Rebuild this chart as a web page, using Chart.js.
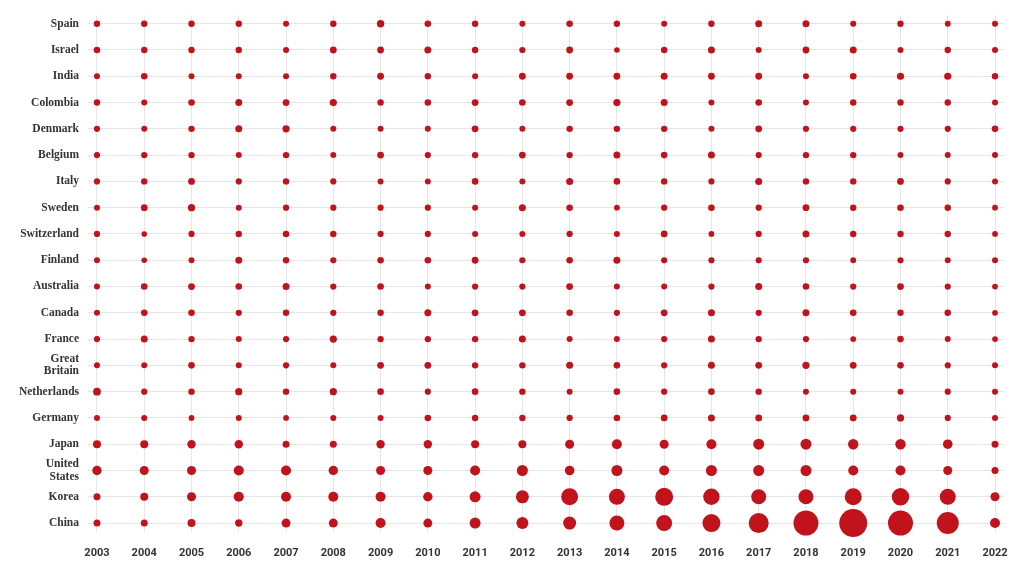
<!DOCTYPE html>
<html>
<head>
<meta charset="utf-8">
<script src="https://cdn.jsdelivr.net/npm/chart.js@4"></script>
<style>
  html, body { margin: 0; padding: 0; background: #ffffff; }
  #wrap { width: 1024px; height: 576px; position: relative; }
</style>
</head>
<body>
<div id="wrap"><canvas id="c" width="1024" height="576"></canvas></div>
<script>
const years = [2003,2004,2005,2006,2007,2008,2009,2010,2011,2012,2013,2014,2015,2016,2017,2018,2019,2020,2021,2022];
const countries = ['Spain','Israel','India','Colombia','Denmark','Belgium','Italy','Sweden','Switzerland','Finland','Australia','Canada','France','Great Britain','Netherlands','Germany','Japan','United States','Korea','China'];
const countryLabels = ['Spain','Israel','India','Colombia','Denmark','Belgium','Italy','Sweden','Switzerland','Finland','Australia','Canada','France',['Great','Britain'],'Netherlands','Germany','Japan',['United','States'],'Korea','China'];

// Estimated bubble sizes (radius units) per country, 2003–2022
const spain       = [3.2,3.2,3.2,3.2,3.0,3.2, 3.7,3.3,3.2,3.0,3.3,3.2,3.0, 3.2,3.5,3.5,3.0,3.2,3.0,3.0];
const israel      = [3.3,3.2,3.2,3.2,3.0,3.4, 3.4,3.5,3.2,3.1,3.4,2.8,3.2, 3.5,3.0,3.4,3.5,3.0,3.2,3.0];
const india       = [3.0,3.3,3.0,3.0,3.0,3.2, 3.4,3.2,3.0,3.4,3.4,3.4,3.5, 3.4,3.4,3.0,3.3,3.6,3.6,3.2];
const colombia    = [3.2,3.0,3.3,3.5,3.4,3.6, 3.2,3.3,3.4,3.3,3.4,3.6,3.5, 3.0,3.3,3.0,3.2,3.2,3.2,3.0];
const denmark     = [3.1,3.0,3.2,3.5,3.6,3.0, 3.0,3.0,3.4,3.0,3.2,3.2,3.2, 3.0,3.4,3.1,3.1,3.1,3.1,3.3];
const belgium     = [3.1,3.2,3.2,3.0,3.2,3.0, 3.4,3.1,3.2,3.4,3.2,3.5,3.3, 3.5,3.1,3.2,3.2,3.0,3.0,3.0];
const italy       = [3.1,3.2,3.4,3.1,3.2,3.1, 3.0,3.0,3.3,3.0,3.5,3.3,3.2, 3.1,3.5,3.2,3.2,3.4,3.1,3.0];
const sweden      = [3.0,3.4,3.6,3.0,3.1,3.1, 3.1,3.1,3.0,3.5,3.3,2.9,3.1, 3.3,3.1,3.4,3.2,3.3,3.2,2.9];
const switzerland = [3.1,2.8,3.1,3.2,3.3,3.2, 3.1,3.1,3.0,3.0,3.1,3.0,3.4, 2.9,3.1,3.5,3.2,3.2,3.2,2.9];
const finland     = [3.0,2.8,3.0,3.5,3.2,3.1, 3.3,3.3,3.4,3.1,3.3,3.5,3.1, 3.1,3.1,3.1,2.9,3.1,3.0,3.0];
const australia   = [3.0,3.3,3.4,3.3,3.5,3.1, 3.3,3.0,3.1,3.1,3.4,3.0,3.0, 3.1,3.5,3.3,3.1,3.4,3.1,2.9];
const canada      = [3.0,3.3,3.3,3.1,3.2,3.1, 3.2,3.5,3.4,3.4,3.3,3.1,3.4, 3.5,3.1,3.5,3.3,3.2,3.2,2.9];
const france      = [3.1,3.5,3.2,3.0,3.1,3.6, 3.2,3.2,3.2,3.5,3.0,3.0,3.1, 3.5,3.2,3.1,2.9,3.3,3.0,2.9];
const greatBritain= [3.0,3.0,3.3,3.0,3.1,3.0, 3.4,3.4,3.2,3.2,3.5,3.3,3.1, 3.5,3.4,3.6,3.4,3.3,3.1,3.0];
const netherlands = [3.9,3.1,3.2,3.6,3.2,3.6, 3.3,3.1,3.3,3.2,3.0,3.3,3.1, 3.3,3.2,3.0,3.0,3.0,3.1,3.0];
const germany     = [3.0,3.0,2.9,3.0,2.9,3.0, 3.0,3.3,3.2,3.2,3.1,3.3,3.4, 3.5,3.4,3.4,3.4,3.6,3.1,3.0];
const japan       = [4.0,4.0,4.2,4.2,3.5,3.5, 4.2,4.2,4.0,4.0,4.5,5.0,4.5, 5.0,5.5,5.5,5.2,5.2,4.8,3.5];
const unitedStates= [4.7,4.5,4.5,5.0,5.0,4.7, 4.5,4.5,5.0,5.5,4.8,5.5,5.0, 5.5,5.5,5.5,5.0,5.0,4.5,3.5];
const korea       = [3.5,4.0,4.5,5.0,5.0,5.0, 5.0,4.7,5.5,6.5,8.5,8.0,9.0, 8.2,7.5,7.5,8.5,8.7,8.0,4.5];
const china       = [3.5,3.5,4.0,3.7,4.5,4.5, 5.0,4.5,5.5,6.0,6.5,7.5,8.0, 9.0,10.0,12.5,14.0,12.5,11.0,5.0];

const sizes = [spain,israel,india,colombia,denmark,belgium,italy,sweden,switzerland,finland,australia,canada,france,greatBritain,netherlands,germany,japan,unitedStates,korea,china];

const points = [];
sizes.forEach((row, ci) => {
  row.forEach((v, yi) => points.push({x: years[yi], y: ci, r: v}));
});

const red = '#C1131B';
const gridColor = '#e6e6e6';

new Chart(document.getElementById('c'), {
  type: 'bubble',
  data: {
    datasets: [{
      data: points,
      backgroundColor: red,
      borderColor: red,
      borderWidth: 0,
      hoverRadius: 0,
      clip: false
    }]
  },
  options: {
    responsive: false,
    animation: false,
    events: [],
    layout: { padding: { top: 15, right: 20, left: 0, bottom: 0 } },
    plugins: { legend: { display: false }, tooltip: { enabled: false } },
    scales: {
      x: {
        type: 'linear',
        min: 2002.81,
        max: 2022.19,
        afterBuildTicks: (s) => { s.ticks = years.map(v => ({value: v})); },
        afterFit: (s) => { s.height = 44; },
        grid: { color: gridColor, lineWidth: 1, drawTicks: false },
        border: { display: false },
        ticks: {
          padding: 15,
          color: '#333333',
          font: { family: 'Roboto', weight: 'bold', size: 11 },
          callback: (v) => String(v),
          maxRotation: 0,
          autoSkip: false
        }
      },
      y: {
        type: 'linear',
        reverse: true,
        min: -0.33,
        max: 19.34,
        afterBuildTicks: (s) => { s.ticks = countries.map((c, i) => ({value: i})); },
        afterFit: (s) => { s.width = 88; },
        grid: { color: gridColor, lineWidth: 1, drawTicks: false },
        border: { display: false },
        ticks: {
          padding: 9,
          color: '#333333',
          font: { family: '"Liberation Serif", serif', weight: 'bold', size: 11.5, lineHeight: 1.05 },
          callback: (v) => countryLabels[v],
          autoSkip: false
        }
      }
    }
  }
});
</script>
</body>
</html>
